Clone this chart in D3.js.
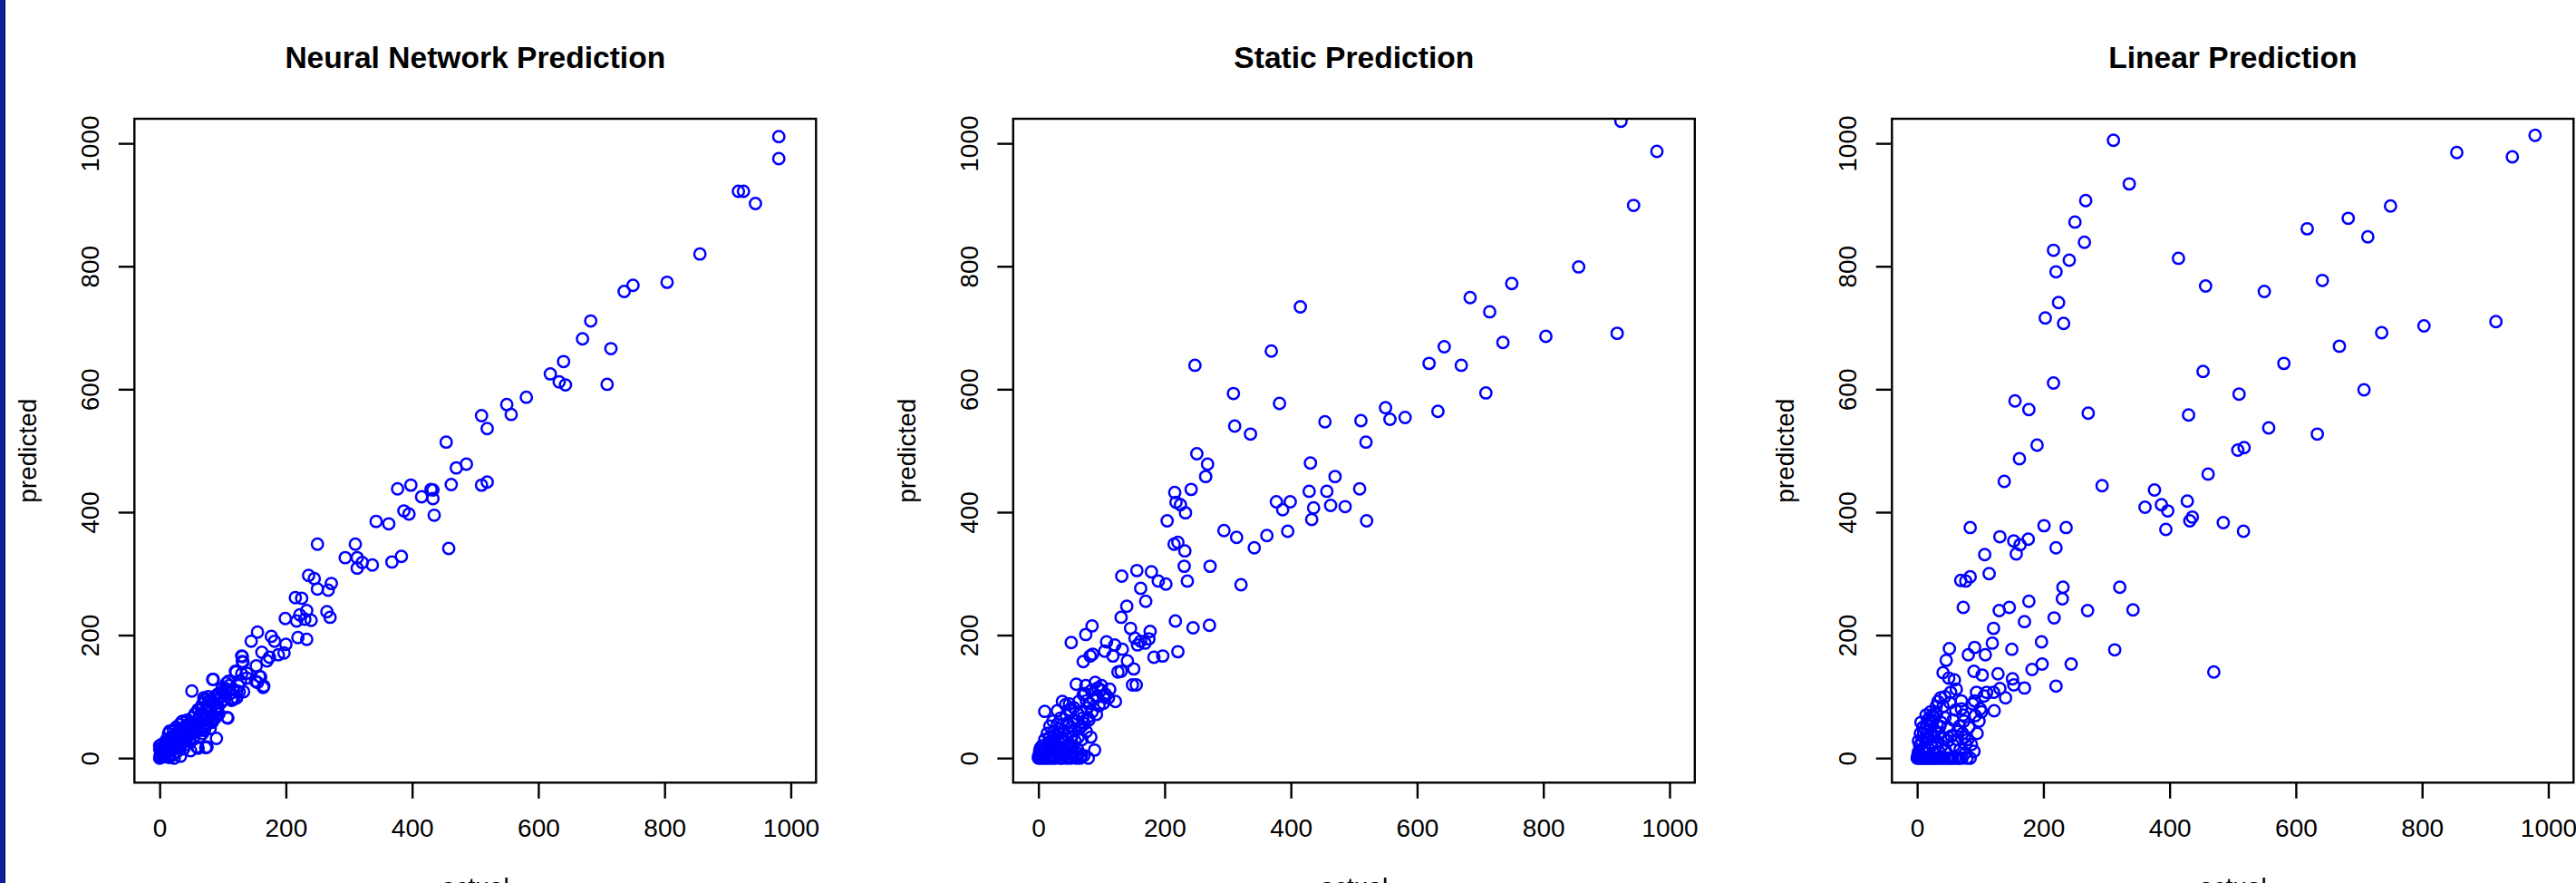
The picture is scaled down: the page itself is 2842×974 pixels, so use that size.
<!DOCTYPE html>
<html>
<head>
<meta charset="utf-8">
<script src="https://cdn.jsdelivr.net/npm/d3@7"></script>
<style>
  body { margin: 0; background: #fff; }
  svg { display: block; }
  text { font-family: "Liberation Sans", Arial, Helvetica, sans-serif; fill: #000; }
</style>
</head>
<body>
<svg width="2842" height="974"></svg>
<script>
// panel titles and tick labels
var panelTitles = ["Neural Network Prediction", "Static Prediction", "Linear Prediction"];
var xTicks = [0, 200, 400, 600, 800, 1000];
var yTicks = [0, 200, 400, 600, 800, 1000];
var xLabel = "actual";
var yLabel = "predicted";

// [actual, predicted]
var nnPoints = [
  [981,1011],[981,975],[917,922],[925,922],[944,902],[856,820],[804,774],[736,759],[750,769],
  [683,711],[670,682],[715,666],[709,608],[619,625],[640,645],[633,612],[643,607],[581,587],
  [550,575],[557,559],[510,557],[519,536],[454,514],[486,478],[470,472],[462,445],[510,444],
  [519,449],[458,341],[398,444],[377,438],[430,437],[433,436],[415,425],[433,422],[435,395],
  [387,402],[395,397],[343,385],[363,381],[250,348],[310,348],[294,326],[313,326],[321,318],
  [337,314],[313,309],[368,319],[383,328],[236,297],[245,292],[250,275],[267,273],[272,284],
  [265,238],[270,229],[215,261],[225,260],[199,227],[222,233],[217,223],[230,226],[240,224],
  [233,240],[219,196],[233,193],[200,185],[197,171],[188,168],[177,198],[182,190],[155,205],
  [145,190],[162,172],[174,164],[170,158],[130,166],[131,157],[120,141],[130,137],[153,150],
  [138,130],[160,132],[152,125],[165,117],[122,109],[133,108],[84,128],[51,109],[108,65],
  [90,32],[106,122],[99,113],[114,94],[122,98],[92,104],[78,93],[70,98],[91,78],[82,60],
  [75,18],[59,18],[131,165],[132,156],[121,140],[138,138],[158,133],[164,115],[155,123],
  [109,125],[126,108],[114,96],[85,128],[68,88],[88,81],[61,79],[107,66],[73,17],[61,16],
  [35,59],[16,44],[44,39],[30,20],[23,0],[0,20],[1,5],
  [0,0],[1,3],[2,10],[0,15],[3,22],[5,5],[6,12],[8,2],[9,25],[10,15],[11,30],[12,8],
  [13,20],[14,40],[15,1],[17,28],[18,12],[19,35],[20,22],[21,5],[22,45],[23,30],[24,16],
  [25,38],[26,50],[27,10],[28,25],[29,42],[30,33],[31,20],[32,55],[33,3],[34,45],[35,28],
  [36,38],[37,60],[38,15],[39,48],[40,32],[41,52],[42,22],[43,40],[44,62],[45,35],[46,55],
  [47,28],[48,45],[49,12],[50,58],[51,40],[52,66],[53,30],[55,50],[56,72],[57,42],[58,60],
  [60,52],[61,78],[62,45],[63,65],[64,35],[65,58],[66,82],[67,50],[69,62],[70,70],[71,45],
  [72,95],[74,80],[75,55],[76,68],[77,100],[78,60],[79,85],[80,48],[81,75],[82,92],[83,58],
  [84,70],[86,88],[87,100],[88,65],[89,78],[91,95],[92,84],[94,72],[95,105],[97,90],[98,100],
  [100,108],[102,95],[104,113],[110,118],[112,105],[116,112],[118,96],[125,118],[128,125],
  [4,14],[7,8],[16,6],[20,32],[27,18],[42,50],[54,44],[64,70],[68,40],[85,62]
];

var staticPoints = [
  [923,1036],[980,987],[943,899],[856,799],[750,772],[684,749],[715,726],[736,676],[804,686],
  [917,691],[619,642],[643,669],[670,639],[633,564],[709,594],[550,570],[557,551],[581,554],
  [511,549],[519,514],[454,547],[415,734],[369,662],[382,577],[431,480],[429,434],[457,434],
  [470,458],[436,407],[463,411],[486,409],[509,438],[520,386],[433,388],[377,417],[399,417],
  [387,404],[395,369],[362,362],[342,342],[321,282],[294,370],[314,359],[309,593],[311,540],
  [336,527],[248,639],[251,495],[268,478],[265,458],[242,437],[216,432],[218,416],[225,412],
  [233,399],[204,386],[215,348],[221,351],[232,337],[231,312],[236,288],[272,312],[132,296],
  [156,305],[179,303],[162,276],[190,288],[202,283],[170,255],[140,247],[131,229],[217,223],
  [245,212],[271,216],[221,173],[85,215],[75,201],[52,188],[146,211],[177,206],[153,195],
  [108,189],[121,184],[133,177],[157,184],[162,190],[169,187],[175,194],[183,164],[197,166],
  [105,174],[118,166],[141,158],[82,166],[86,169],[71,157],[126,140],[131,141],[151,145],
  [149,119],[155,119],[60,120],[10,76],[122,92],[89,13],
  [30,77],[38,92],[43,87],[50,78],[71,103],[74,105],[81,89],[90,123],[94,114],[99,111],
  [103,100],[92,71],[76,93],[63,71],[55,61],[46,57],[33,48],[24,43],[18,34],[37,34],[55,20],
  [50,16],[76,43],[83,34],[72,4],[59,4],[42,6],[29,2],[20,2],[11,6],[3,16],[0,2],[16,25],
  [24,29],[33,25],[42,25],[63,34],[68,52],[78,66],[85,75],[103,89],[111,98],
  [0,0],[1,5],[2,12],[4,0],[5,8],[6,20],[7,3],[8,0],[9,14],[10,30],[12,0],[13,9],[14,40],
  [15,18],[17,0],[18,52],[19,10],[21,28],[22,0],[23,60],[25,14],[26,36],[27,0],[28,20],
  [30,55],[31,8],[32,40],[34,0],[35,65],[36,18],[38,0],[39,45],[40,30],[41,12],[44,70],
  [45,0],[47,42],[48,22],[49,88],[51,0],[52,50],[53,35],[54,8],[56,82],[57,44],[58,28],
  [60,0],[61,60],[62,14],[64,92],[65,48],[66,0],[67,75],[69,30],[70,65],[73,56],[75,118],
  [77,82],[79,0],[80,62],[84,110],[87,95],[93,100],[96,85],[100,118],[106,104],[113,112],
  [35,6],[44,18],[26,4],[19,22],[9,4],[3,2],[62,8],[68,4],[54,2]
];

var linearPoints = [
  [979,1013],[943,978],[855,985],[750,898],[683,878],[618,861],[714,848],[642,777],[550,759],
  [736,692],[803,703],[917,710],[669,670],[581,642],[708,599],[510,592],[557,537],[634,527],
  [508,501],[518,505],[453,629],[430,558],[414,813],[457,768],[461,462],[485,383],[517,369],
  [470,140],[428,418],[436,392],[432,386],[376,436],[387,412],[397,402],[361,408],[394,372],
  [311,1005],[336,934],[267,907],[250,872],[265,839],[241,810],[216,826],[220,791],[224,741],
  [203,716],[232,707],[216,610],[155,581],[177,567],[271,561],[190,509],[162,487],[138,450],
  [293,443],[84,375],[131,360],[153,353],[176,356],[163,347],[157,332],[201,378],[236,375],
  [220,342],[107,331],[114,300],[69,289],[84,295],[77,288],[73,245],[130,240],[146,245],
  [177,255],[170,222],[121,211],[119,187],[217,228],[231,278],[230,259],[270,240],[321,278],
  [342,241],[197,189],[150,177],[182,144],[198,153],[244,153],[313,176],[220,117],[170,114],
  [151,129],[153,119],[128,137],[131,113],[121,107],[140,98],[122,77],[91,180],[81,168],
  [108,168],[51,178],[46,159],[41,139],[90,141],[103,135],
  [37,98],[53,107],[62,112],[59,127],[50,130],[70,93],[70,80],[73,70],[92,69],[102,75],
  [91,93],[94,107],[106,101],[110,107],[64,43],[75,34],[77,22],[90,11],[79,0],[66,0],[53,0],
  [6,58],[14,70],[21,75],[27,66],[36,52],[17,43],[27,34],
  [0,0],[1,4],[2,10],[3,0],[4,20],[5,6],[6,0],[7,28],[8,12],[9,0],[10,40],[11,18],[12,0],
  [13,48],[14,8],[15,0],[16,30],[17,62],[18,0],[19,14],[20,52],[21,0],[22,36],[23,22],
  [24,0],[25,60],[26,8],[27,0],[28,45],[29,18],[30,0],[31,72],[32,26],[33,0],[34,40],
  [35,10],[36,0],[38,58],[39,20],[40,0],[41,84],[42,32],[43,0],[44,66],[45,12],[47,0],
  [48,50],[49,28],[50,0],[52,90],[54,36],[56,0],[57,62],[58,20],[60,0],[61,78],[63,30],
  [65,0],[67,52],[68,14],[71,0],[72,40],[74,60],[76,8],[80,30],[82,50],[84,0],[86,22],
  [88,88],[95,40],[98,60],[100,80],[2,28],[5,40],[9,50],[12,32],[15,56],[19,64],[24,70],
  [30,84],[33,92],[44,100]
];

var series = [nnPoints, staticPoints, linearPoints];

function main() {
  var svg = d3.select("svg");

  // thin dark blue frame edge at the left of the picture
  svg.append("rect").attr("x", 0).attr("y", 0).attr("width", 5).attr("height", 974).attr("fill", "#0b1e9e");
  svg.append("rect").attr("x", 5).attr("y", 0).attr("width", 1).attr("height", 974).attr("fill", "#0a0f40");

  var step = 969.5,
      left = 148.3, right = 900.3, top = 131, bottom = 863.3;

  panelTitles.forEach(function(title, i) {
    var g = svg.append("g").attr("transform", "translate(" + (i * step) + ",0)");

    var xScale = d3.scaleLinear().domain([-40, 1040]).range([left, right]),
        yScale = d3.scaleLinear().domain([-40, 1040]).range([bottom, top]);

    var clipId = "clip" + i;
    g.append("clipPath").attr("id", clipId)
     .append("rect")
     .attr("x", left).attr("y", top)
     .attr("width", right - left).attr("height", bottom - top);

    // points
    g.append("g")
     .attr("clip-path", "url(#" + clipId + ")")
     .selectAll("circle")
     .data(series[i])
     .enter().append("circle")
     .attr("cx", function(d) { return xScale(d[0]); })
     .attr("cy", function(d) { return yScale(d[1]); })
     .attr("r", 6.2)
     .attr("fill", "none")
     .attr("stroke", "#0000ff")
     .attr("stroke-width", 2.5);

    // x axis
    var xAxis = g.append("g")
     .attr("transform", "translate(0," + bottom + ")")
     .call(d3.axisBottom(xScale).tickValues(xTicks).tickFormat(function(d) { return d; })
       .tickSize(17.5).tickPadding(22.5));
    xAxis.select(".domain").remove();
    xAxis.selectAll("line").attr("stroke", "#000").attr("stroke-width", 2.4);
    xAxis.selectAll("text").style("font-size", "28px").attr("fill", "#000");

    // y axis, labels parallel to the axis
    var yAxis = g.append("g")
     .attr("transform", "translate(" + left + ",0)")
     .call(d3.axisLeft(yScale).tickValues(yTicks).tickFormat(function(d) { return d; }).tickSize(17.5));
    yAxis.select(".domain").remove();
    yAxis.selectAll("line").attr("stroke", "#000").attr("stroke-width", 2.4);
    yAxis.selectAll("text")
     .style("font-size", "28px")
     .attr("fill", "#000")
     .attr("x", null).attr("dy", null)
     .attr("text-anchor", "middle")
     .attr("transform", "translate(-39,0) rotate(-90)");

    // box
    g.append("rect")
     .attr("x", left).attr("y", top)
     .attr("width", right - left).attr("height", bottom - top)
     .attr("fill", "none")
     .attr("stroke", "#000")
     .attr("stroke-width", 2.4);

    g.append("text")
     .attr("x", (left + right) / 2)
     .attr("y", 75)
     .attr("text-anchor", "middle")
     .style("font-size", "33.6px")
     .style("font-weight", "bold")
     .text(title);

    g.append("text")
     .attr("x", (left + right) / 2)
     .attr("y", 988)
     .attr("text-anchor", "middle")
     .style("font-size", "28px")
     .text(xLabel);

    g.append("text")
     .attr("transform", "translate(40," + ((top + bottom) / 2) + ") rotate(-90)")
     .attr("text-anchor", "middle")
     .style("font-size", "28px")
     .text(yLabel);
  });
}
main();
</script>
</body>
</html>
